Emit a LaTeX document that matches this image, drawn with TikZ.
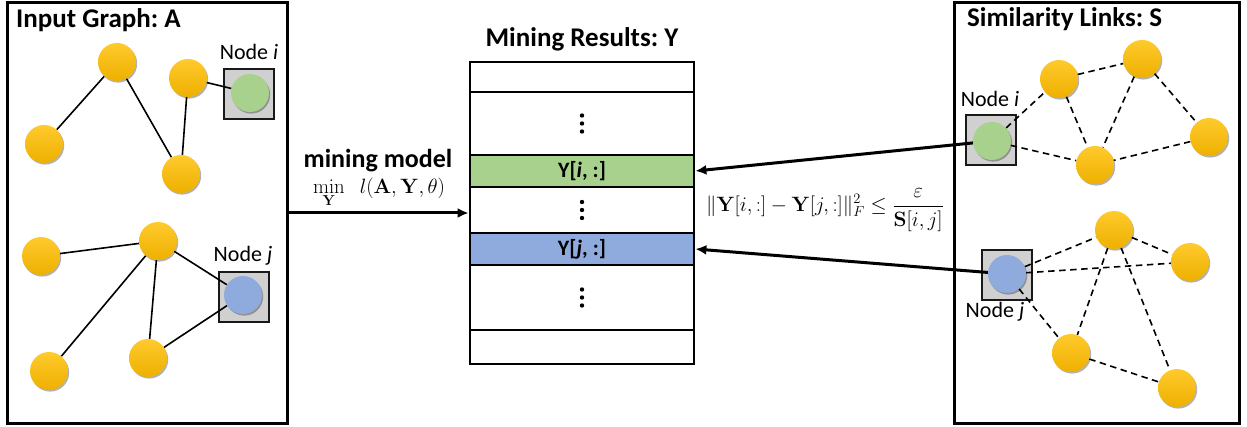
\documentclass[tikz,border=0pt]{standalone}
\usepackage[no-math]{fontspec}
\setmainfont{Carlito}
\usetikzlibrary{arrows.meta,shadows}
\pgfdeclarelayer{bg}
\pgfdeclarelayer{edges}
\pgfsetlayers{bg,edges,main}
\definecolor{yc1}{RGB}{255,202,45}
\definecolor{yc2}{RGB}{238,176,0}
\definecolor{gc}{HTML}{A9D18E}
\definecolor{bc}{HTML}{8FAADC}
\definecolor{sqc}{HTML}{D0D0D0}
\frenchspacing
\begin{document}
\begin{tikzpicture}[x=1pt,y=-1pt,
  circ/.style={circle, minimum size=38pt, inner sep=0pt, draw=none,
    drop shadow={shadow xshift=1.2pt, shadow yshift=-1.6pt, opacity=0.3, fill=black}},
  ynode/.style={circ, top color=yc1, bottom color=yc2},
  gnode/.style={circ, fill=gc},
  bnode/.style={circ, fill=bc},
  sqbox/.style={rectangle, minimum size=50pt, inner sep=0pt, fill=sqc, draw=black!90, line width=2.8pt},
  panel/.style={rectangle, draw=black, line width=3pt, inner sep=0pt},
  rowbox/.style={rectangle, draw=black, line width=2.8pt, minimum width=224pt, inner sep=0pt},
  edge/.style={line width=1.6pt, black},
  dedge/.style={edge, dash pattern=on 6.5pt off 4.5pt},
  arr/.style={line width=3pt, -{Latex[length=11pt,width=10pt]}},
  title/.style={font=\fontsize{27}{32}\selectfont\bfseries, inner sep=0pt},
  lab/.style={font=\fontsize{22}{26}\selectfont, inner sep=0pt},
  rowtext/.style={font=\fontsize{22}{26}\selectfont\bfseries}
]
\useasboundingbox (0,0) rectangle (1247,427);

% panels
\node[panel, minimum width=280pt, minimum height=421pt] (pa) at (147,213) {};
\node[panel, minimum width=285pt, minimum height=420pt] (ps) at (1096.5,213) {};

\node[title, anchor=base west] (ta) at (16,28) {Input Graph: A};
\node[title, anchor=base west] (ts) at (967,27) {Similarity Links: S};
\node[title, anchor=base] (ty) at (582,47) {Mining Results: Y};

% squares
\begin{pgfonlayer}{bg}
\node[sqbox] (sqi) at (249,94) {};
\node[sqbox] (sqj) at (244,297) {};
\node[sqbox] (sqi2) at (991,140) {};
\node[sqbox] (sqj2) at (1007,275) {};
\end{pgfonlayer}

% left graph nodes
\node[ynode] (a1) at (117,62) {};
\node[ynode] (a2) at (44,144) {};
\node[ynode] (a3) at (188,78) {};
\node[ynode] (a4) at (181,174) {};
\node[gnode] (ni) at (250,93) {};
\node[ynode] (b1) at (158,241) {};
\node[ynode] (b2) at (41,256) {};
\node[ynode] (b3) at (49,371) {};
\node[ynode] (b4) at (148,358) {};
\node[bnode] (nj) at (243,295) {};
\node[lab, anchor=base] (li) at (249,60) {Node \textit{i}};
\node[lab, anchor=base] (lj) at (243,262) {Node \textit{j}};

% right graph nodes
\node[gnode] (ni2) at (992,141) {};
\node[ynode] (c1) at (1059,79) {};
\node[ynode] (c2) at (1142,59) {};
\node[ynode] (c3) at (1209,137) {};
\node[ynode] (c4) at (1095,165) {};
\node[bnode] (nj2) at (1007,274) {};
\node[ynode] (d1) at (1114,230) {};
\node[ynode] (d2) at (1190,262) {};
\node[ynode] (d3) at (1071,353) {};
\node[ynode] (d4) at (1177,388) {};
\node[lab, anchor=base] (li2) at (990,107) {Node \textit{i}};
\node[lab, anchor=base] (lj2) at (995,318) {Node \textit{j}};

\begin{pgfonlayer}{edges}
\draw[edge] (a1) -- (a2);
\draw[edge] (a1) -- (a4);
\draw[edge] (a3) -- (a4);
\draw[edge] (a3) -- (ni);
\draw[edge] (b1) -- (b2);
\draw[edge] (b1) -- (b3);
\draw[edge] (b1) -- (b4);
\draw[edge] (b1) -- (nj);
\draw[edge] (b4) -- (nj);
\draw[dedge] (ni2) -- (c1);
\draw[dedge] (ni2) -- (c4);
\draw[dedge] (c1) -- (c2);
\draw[dedge] (c1) -- (c4);
\draw[dedge] (c2) -- (c4);
\draw[dedge] (c2) -- (c3);
\draw[dedge] (c3) -- (c4);
\draw[dedge] (nj2) -- (d1);
\draw[dedge] (nj2) -- (d2);
\draw[dedge] (nj2) -- (d3);
\draw[dedge] (d1) -- (d2);
\draw[dedge] (d1) -- (d3);
\draw[dedge] (d1) -- (d4);
\draw[dedge] (d3) -- (d4);
\end{pgfonlayer}

% table
\node[rowbox, minimum height=30pt] (r1) at (582,77) {};
\node[rowbox, minimum height=63pt] (r2) at (582,123.5) {};
\node[rowbox, minimum height=32pt, fill=gc, rowtext] (r3) at (582,171) {Y[\textit{i}, :]};
\node[rowbox, minimum height=46pt] (r4) at (582,210) {};
\node[rowbox, minimum height=32pt, fill=bc, rowtext] (r5) at (582,249) {Y[\textit{j}, :]};
\node[rowbox, minimum height=65pt] (r6) at (582,297.5) {};
\node[rowbox, minimum height=34pt] (r7) at (582,347) {};
\foreach \r in {r2,r4,r6}
  \foreach \d in {-8,0,8}
    \fill (\r) ++(0,\d) circle (2.2);

% mining model
\node[font=\fontsize{26}{30}\selectfont\bfseries, anchor=base, inner sep=0pt] (mm) at (378,168) {mining model};
\node[font=\fontsize{21.5}{25}\selectfont, anchor=base, inner sep=0pt] (mf) at (379,194)
  {$\displaystyle\min_{\mathbf{Y}}\;\; l(\mathbf{A},\mathbf{Y},\theta)$};
\draw[arr] ([yshift=-3pt]pa.east |- r4.west) -- ([yshift=-3pt]r4.west);

% similarity arrows
\draw[arr] (ni2) -- (r3.east);
\draw[arr] (nj2) -- (r5.east);

% constraint formula
\node[font=\fontsize{21.5}{25}\selectfont, inner sep=0pt] (cf) at (825,210)
  {$\displaystyle \|\mathbf{Y}[i,:]-\mathbf{Y}[j,:]\|_F^2\leq\frac{\varepsilon}{\mathbf{S}[i,j]}$};
\end{tikzpicture}
\end{document}
